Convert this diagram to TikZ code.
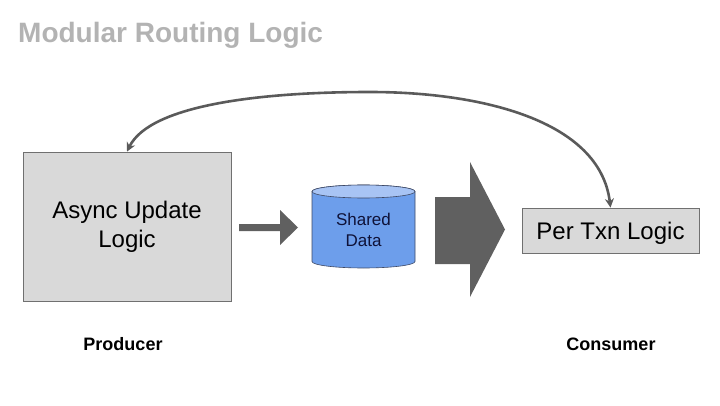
\documentclass[tikz,border=0pt]{standalone}
\usepackage{fontspec}
\setmainfont{Liberation Sans}
\usetikzlibrary{arrows.meta}
\definecolor{boxfill}{HTML}{D9D9D9}
\definecolor{boxline}{HTML}{707070}
\definecolor{arrowgray}{HTML}{606060}
\definecolor{curvegray}{HTML}{5A5A5A}
\definecolor{cylbody}{HTML}{6D9EEB}
\definecolor{cyltop}{HTML}{A8C4F4}
\definecolor{cylline}{HTML}{3F4A66}
\definecolor{navytext}{HTML}{0F1238}
\definecolor{titlegray}{HTML}{B3B3B3}
\tikzset{
  procbox/.style={draw=boxline, line width=0.8pt, fill=boxfill, align=center, inner sep=0pt, font=\fontsize{24}{29}\selectfont},
  rolelabel/.style={font=\bfseries\fontsize{18}{21}\selectfont, anchor=base},
  fatarrow/.style={fill=arrowgray, draw=none},
  feedback/.style={draw=curvegray, line width=2.6pt, {Stealth[length=9pt,width=9pt]}-{Stealth[length=9pt,width=9pt]}}
}
\begin{document}
\begin{tikzpicture}[x=1pt,y=1pt]
\useasboundingbox (0,0) rectangle (720,405);
% title
\node[anchor=base west, inner sep=0pt, text=titlegray, font=\bfseries\fontsize{28}{33}\selectfont] (title) at (18,362) {Modular Routing Logic};
% boxes
\node[procbox, minimum width=208pt, minimum height=149pt, yshift=0pt] (async) at (127,178.5) {\raisebox{-2pt}{Async Update}\\\raisebox{-2pt}{Logic}};
\node[procbox, minimum width=177pt, minimum height=45pt, text height=17pt, text depth=0pt] (pertxn) at (610.5,174.5) {Per Txn Logic};
% small arrow
\fill[fatarrow] (239,174) -- (280,174) -- (280,160) -- (298,177.5) -- (280,195) -- (280,181) -- (239,181) -- cycle;
% cylinder
\filldraw[fill=cylbody, draw=cylline, line width=0.6pt]
  (312,213.5) -- (312,143.5) arc[start angle=180, end angle=360, x radius=51.5, y radius=6.5]
  -- (415,213.5) arc[start angle=0, end angle=180, x radius=51.5, y radius=6.5] -- cycle;
\filldraw[fill=cyltop, draw=cylline, line width=0.6pt] (363.5,213.5) ellipse[x radius=51.5, y radius=6.5];
\node[align=center, text=navytext, font=\fontsize{17}{21.5}\selectfont] (shared) at (363.5,175) {Shared\\Data};
% big arrow
\fill[fatarrow] (435,141) -- (470,141) -- (470,108) -- (505,175.5) -- (470,243) -- (470,208) -- (435,208) -- cycle;
% labels
\node[rolelabel] (producer) at (123,55) {Producer};
\node[rolelabel] (consumer) at (611,55) {Consumer};
% feedback curve
\draw[feedback] (async.north) .. controls (150,300) and (260,313) .. (370,313)
  .. controls (480,313) and (600,285) .. (pertxn.north);
\end{tikzpicture}
\end{document}
